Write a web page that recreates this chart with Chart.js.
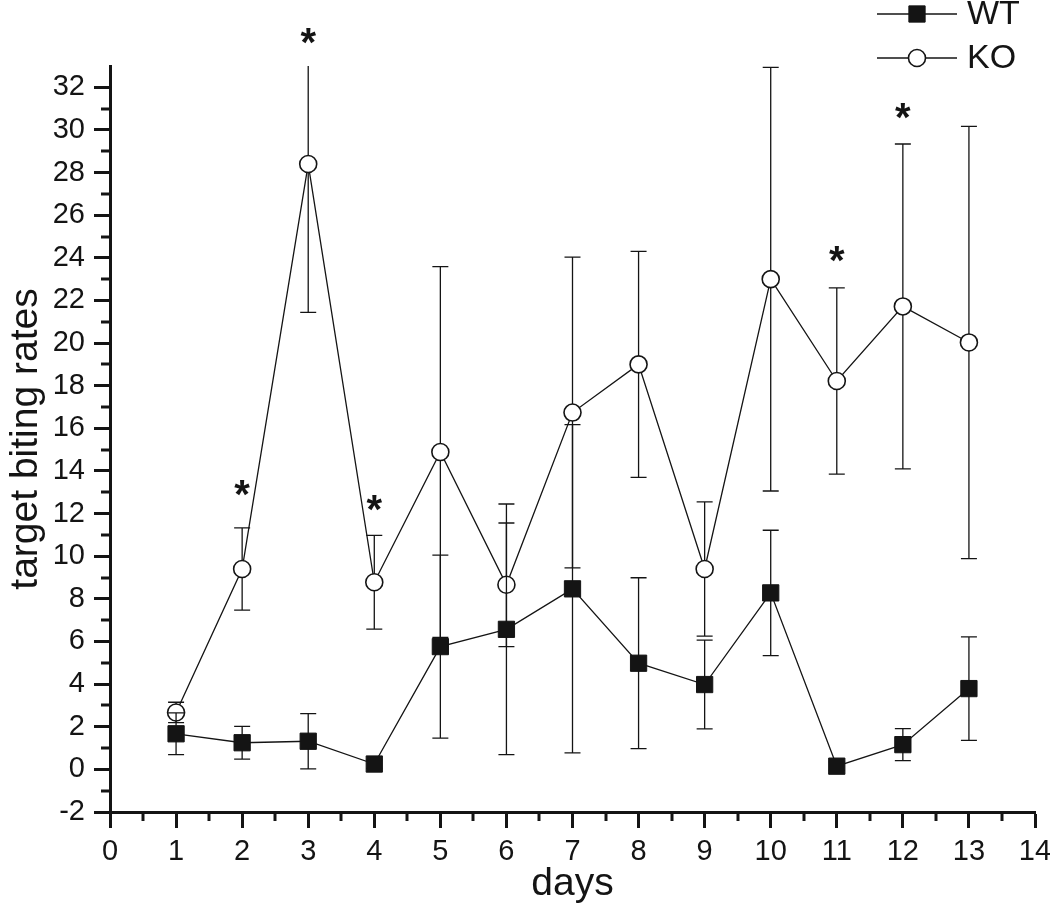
<!DOCTYPE html>
<html>
<head>
<meta charset="utf-8">
<script src="https://cdn.jsdelivr.net/npm/chart.js@4.4.0/dist/chart.umd.min.js"></script>
<style>
  html, body { margin: 0; padding: 0; background: #fff; }
  #wrap { width: 1050px; height: 906px; }
</style>
</head>
<body>
<div id="wrap"><canvas id="bitingChart" width="1050" height="906"></canvas></div>
<script>
// values
const days = [1, 2, 3, 4, 5, 6, 7, 8, 9, 10, 11, 12, 13];
const wtMean = [1.67, 1.25, 1.32, 0.25, 5.76, 6.57, 8.47, 4.98, 3.98, 8.28, 0.15, 1.16, 3.79];
const wtErr = [0.98, 0.77, 1.30, 0.20, 4.29, 5.88, 7.70, 4.01, 2.08, 2.94, 0.20, 0.75, 2.43];
const koMean = [2.67, 9.40, 28.40, 8.78, 14.89, 8.66, 16.74, 19.00, 9.40, 23.00, 18.22, 21.72, 20.03];
const koErr = [0.48, 1.93, 6.96, 2.20, 8.70, 2.90, 7.29, 5.30, 3.15, 9.94, 4.37, 7.62, 10.14];

// significance marks (day, height in y units)
const starDays = [2, 3, 4, 11, 12];
const starY = [13.2, 34.4, 12.5, 24.2, 30.9];

const xTicks = [0, 1, 2, 3, 4, 5, 6, 7, 8, 9, 10, 11, 12, 13, 14];
const yTicks = [-2, 0, 2, 4, 6, 8, 10, 12, 14, 16, 18, 20, 22, 24, 26, 28, 30, 32];

const INK = '#141414';
const FONT = "'Liberation Sans', Arial, Helvetica, sans-serif";

function drawMarker(ctx, ds, x, y) {
    ctx.save();
    ctx.fillStyle = ds.pointBackgroundColor;
    ctx.strokeStyle = ds.pointBorderColor;
    ctx.lineWidth = ds.pointBorderWidth;
    ctx.beginPath();
    if (ds.pointStyle === 'rect') {
        const s = Math.SQRT1_2 * ds.pointRadius;
        ctx.rect(x - s, y - s, 2 * s, 2 * s);
    } else {
        ctx.arc(x, y, ds.pointRadius, 0, Math.PI * 2);
    }
    ctx.fill();
    ctx.stroke();
    ctx.restore();
}

// error bars go under each dataset's own line and markers
const errorBars = {
    id: 'errorBars',
    beforeDatasetDraw(chart, args) {
        const ds = chart.data.datasets[args.index];
        if (!ds.errors) return;
        const {ctx, chartArea, scales: {x, y}} = chart;
        ctx.save();
        ctx.beginPath();
        ctx.rect(chartArea.left, chartArea.top, chartArea.right - chartArea.left, chartArea.bottom - chartArea.top);
        ctx.clip();
        ctx.strokeStyle = INK;
        ctx.lineWidth = 1.3;
        ds.data.forEach((pt, i) => {
            const px = x.getPixelForValue(pt.x);
            const top = y.getPixelForValue(pt.y + ds.errors[i]);
            const bot = y.getPixelForValue(pt.y - ds.errors[i]);
            ctx.beginPath();
            ctx.moveTo(px, top);
            ctx.lineTo(px, bot);
            ctx.moveTo(px - 8, top);
            ctx.lineTo(px + 8, top);
            ctx.moveTo(px - 8, bot);
            ctx.lineTo(px + 8, bot);
            ctx.stroke();
        });
        ctx.restore();
    }
};

const minorTicks = {
    id: 'minorTicks',
    afterDraw(chart) {
        const {ctx, chartArea, scales: {x, y}} = chart;
        ctx.save();
        ctx.strokeStyle = INK;
        ctx.lineWidth = 3;
        for (let i = 0; i < xTicks.length - 1; i++) {
            const px = Math.round(x.getPixelForValue((xTicks[i] + xTicks[i + 1]) / 2));
            ctx.beginPath();
            ctx.moveTo(px, chartArea.bottom);
            ctx.lineTo(px, chartArea.bottom + 9);
            ctx.stroke();
        }
        for (let i = 0; i < yTicks.length - 1; i++) {
            const py = Math.round(y.getPixelForValue((yTicks[i] + yTicks[i + 1]) / 2));
            ctx.beginPath();
            ctx.moveTo(chartArea.left, py);
            ctx.lineTo(chartArea.left - 9, py);
            ctx.stroke();
        }
        ctx.restore();
    }
};

const stars = {
    id: 'stars',
    afterDatasetsDraw(chart) {
        const {ctx, scales: {x, y}} = chart;
        const size = 40;
        ctx.save();
        ctx.fillStyle = INK;
        ctx.font = 'bold ' + size + 'px ' + FONT;
        ctx.textAlign = 'center';
        ctx.textBaseline = 'alphabetic';
        starDays.forEach((d, i) => {
            ctx.fillText('*', x.getPixelForValue(d), y.getPixelForValue(starY[i]) + size * 0.5);
        });
        ctx.restore();
    }
};

const lineLegend = {
    id: 'lineLegend',
    afterDraw(chart) {
        const ctx = chart.ctx;
        const rows = [14, 58];
        ctx.save();
        chart.data.datasets.forEach((ds, i) => {
            const ry = rows[i];
            ctx.strokeStyle = ds.borderColor;
            ctx.lineWidth = ds.borderWidth;
            ctx.beginPath();
            ctx.moveTo(877, ry);
            ctx.lineTo(957, ry);
            ctx.stroke();
            drawMarker(ctx, ds, 917, ry);
            ctx.fillStyle = INK;
            ctx.font = '34px ' + FONT;
            ctx.textAlign = 'left';
            ctx.textBaseline = 'middle';
            ctx.fillText(ds.label, 967, ry + 1);
        });
        ctx.restore();
    }
};

const ctx = document.getElementById('bitingChart').getContext('2d');

new Chart(ctx, {
    type: 'line',
    data: {
        datasets: [
            {
                label: 'WT',
                data: days.map((d, i) => ({x: d, y: wtMean[i]})),
                errors: wtErr,
                borderColor: INK,
                borderWidth: 1.3,
                pointStyle: 'rect',
                pointRadius: 11.5,
                pointBackgroundColor: INK,
                pointBorderColor: INK,
                pointBorderWidth: 1,
                tension: 0,
                fill: false
            },
            {
                label: 'KO',
                data: days.map((d, i) => ({x: d, y: koMean[i]})),
                errors: koErr,
                borderColor: INK,
                borderWidth: 1.3,
                pointStyle: 'circle',
                pointRadius: 8.5,
                pointBackgroundColor: '#fff',
                pointBorderColor: INK,
                pointBorderWidth: 1.6,
                tension: 0,
                fill: false
            }
        ]
    },
    options: {
        responsive: false,
        animation: false,
        layout: {
            padding: {top: 66, right: 15, bottom: 0, left: 0}
        },
        plugins: {
            legend: {display: false},
            tooltip: {enabled: false}
        },
        scales: {
            x: {
                type: 'linear',
                min: 0,
                max: 14,
                afterBuildTicks: s => { s.ticks = xTicks.map(v => ({value: v})); },
                afterFit: s => { s.height = 94; s.paddingRight = 0; },
                grid: {drawOnChartArea: false, drawTicks: true, tickLength: 16, tickWidth: 3, tickColor: INK},
                border: {display: true, width: 3, color: INK},
                ticks: {color: INK, font: {family: FONT, size: 29}, padding: 7, maxRotation: 0, autoSkip: false},
                title: {display: true, text: 'days', color: INK, font: {family: FONT, size: 39, lineHeight: 1}, padding: {top: 0, bottom: 2}}
            },
            y: {
                type: 'linear',
                min: -2,
                max: 33,
                afterBuildTicks: s => { s.ticks = yTicks.map(v => ({value: v})); },
                afterFit: s => { s.width = 110; },
                grid: {drawOnChartArea: false, drawTicks: true, tickLength: 16, tickWidth: 3, tickColor: INK},
                border: {display: true, width: 3, color: INK},
                ticks: {color: INK, font: {family: FONT, size: 29}, padding: 9, autoSkip: false},
                title: {display: true, text: 'target biting rates', color: INK, font: {family: FONT, size: 39, lineHeight: 1}, padding: {top: 7, bottom: 0}}
            }
        }
    },
    plugins: [errorBars, minorTicks, stars, lineLegend]
});
</script>
</body>
</html>
